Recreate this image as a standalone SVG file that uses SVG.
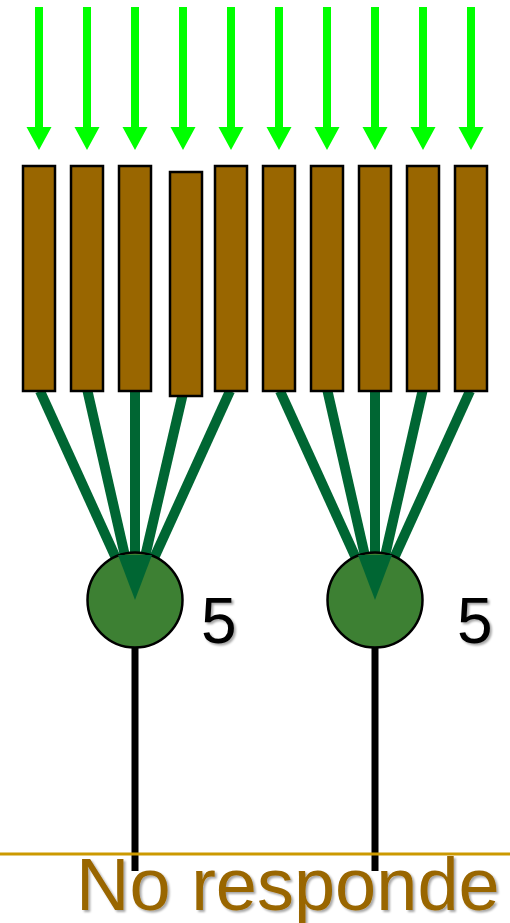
<svg xmlns="http://www.w3.org/2000/svg" width="510" height="923" viewBox="0 0 510 923">
  <defs>
    <style>
      .arrow { fill: #00ff00; }
      .cell { fill: #996600; stroke: #000; stroke-width: 2.5; }
      .link { stroke: #006633; stroke-width: 10; stroke-linecap: butt; fill: none; }
      .axon { stroke: #000; stroke-width: 7; fill: none; }
      .soma { fill: #3d8033; stroke: #000; stroke-width: 2.5; }
      .num { font-family: "Liberation Sans", Arial, sans-serif; font-size: 64px; fill: #000; filter: url(#shadow); }
      .label { font-family: "Liberation Sans", Arial, sans-serif; font-size: 74px; fill: #996600; filter: url(#shadow); }
    </style>
    <filter id="shadow" x="-10%" y="-10%" width="130%" height="140%">
      <feDropShadow dx="2" dy="2" stdDeviation="1.2" flood-color="#000" flood-opacity="0.35"/>
    </filter>
    <path id="down" d="M-4,7 H4 V127 H12.5 L0,150 L-12.5,127 H-4 Z"/>
  </defs>

  <!-- stimulus arrows -->
  <g id="stimuli" class="arrow">
    <use href="#down" x="39"/>
    <use href="#down" x="87"/>
    <use href="#down" x="135"/>
    <use href="#down" x="183"/>
    <use href="#down" x="231"/>
    <use href="#down" x="279"/>
    <use href="#down" x="327"/>
    <use href="#down" x="375"/>
    <use href="#down" x="423"/>
    <use href="#down" x="471"/>
  </g>

  <!-- connectors -->
  <g id="connectors">
    <line class="link" x1="40" y1="391" x2="135" y2="600"/>
    <line class="link" x1="87.5" y1="391" x2="135" y2="600"/>
    <line class="link" x1="135" y1="391" x2="135" y2="600"/>
    <line class="link" x1="183" y1="393" x2="135" y2="600"/>
    <line class="link" x1="230" y1="391" x2="135" y2="600"/>
    <line class="link" x1="280" y1="391" x2="375" y2="600"/>
    <line class="link" x1="327.5" y1="391" x2="375" y2="600"/>
    <line class="link" x1="375" y1="391" x2="375" y2="600"/>
    <line class="link" x1="422.5" y1="391" x2="375" y2="600"/>
    <line class="link" x1="470" y1="391" x2="375" y2="600"/>
    <line class="axon" x1="135" y1="647" x2="135" y2="871"/>
    <line class="axon" x1="375" y1="647" x2="375" y2="871"/>
  </g>

  <!-- receptor cells -->
  <g id="cell1"><rect class="cell" x="23" y="166" width="32" height="225"/></g>
  <g id="cell2"><rect class="cell" x="71" y="166" width="32" height="225"/></g>
  <g id="cell3"><rect class="cell" x="119" y="166" width="32" height="225"/></g>
  <g id="cell4"><rect class="cell" x="170" y="172" width="32" height="224"/></g>
  <g id="cell5"><rect class="cell" x="215" y="166" width="32" height="225"/></g>
  <g id="cell6"><rect class="cell" x="263" y="166" width="32" height="225"/></g>
  <g id="cell7"><rect class="cell" x="311" y="166" width="32" height="225"/></g>
  <g id="cell8"><rect class="cell" x="359" y="166" width="32" height="225"/></g>
  <g id="cell9"><rect class="cell" x="407" y="166" width="32" height="225"/></g>
  <g id="cell10"><rect class="cell" x="455" y="166" width="32" height="225"/></g>

  <!-- redraw connector tips over the soma -->
  <g id="soma-left">
    <circle class="soma" cx="135" cy="600" r="47.5"/>
    <path d="M118,555 L135,600 L152,555 Z" fill="#006633"/>
    <text class="num" x="201" y="643">5</text>
  </g>
  <g id="soma-right">
    <circle class="soma" cx="375" cy="600" r="47.5"/>
    <path d="M358,555 L375,600 L392,555 Z" fill="#006633"/>
    <text class="num" x="457" y="643">5</text>
  </g>

  <!-- threshold line and label -->
  <g id="threshold">
    <line x1="0" y1="854" x2="510" y2="854" stroke="#cc9900" stroke-width="3"/>
    <text class="label" x="76" y="910">No responde</text>
  </g>
</svg>
